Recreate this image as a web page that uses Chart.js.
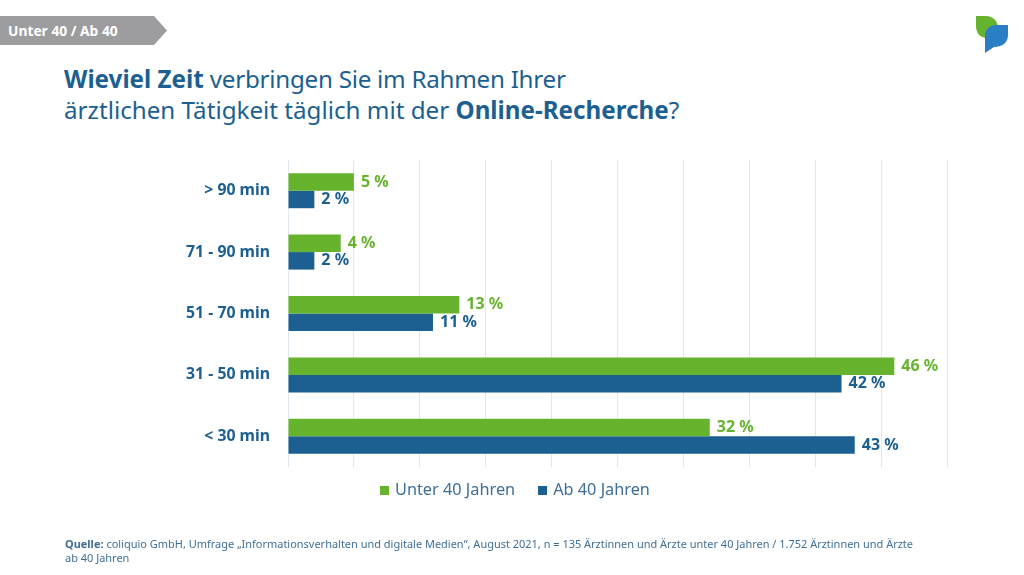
<!DOCTYPE html>
<html lang="de">
<head>
<meta charset="utf-8">
<title>Online-Recherche</title>
<script src="https://cdn.jsdelivr.net/npm/chart.js@4"></script>
<style>
  html, body { margin: 0; padding: 0; background: #fff; }
  body { width: 1024px; height: 575px; position: relative; overflow: hidden; font-family: "Noto Sans", sans-serif; }
  #chart-canvas { position: absolute; left: 0; top: 0; }
  .tab { position: absolute; left: 0; top: 16px; width: 167px; height: 29px; background: #9d9d9f; color: #fff;
    clip-path: polygon(0 0, 154px 0, 100% 50%, 154px 100%, 0 100%);
    font-weight: 700; font-size: 13.8px; line-height: 29px; padding-left: 8px; box-sizing: border-box; }
  h1 { position: absolute; left: 64px; top: 63px; margin: 0; font-size: 24.2px; line-height: 31px; font-weight: 400; color: #1c5f91; white-space: nowrap; }
  h1 b { font-weight: 700; }
  h1 span { letter-spacing: -0.26px; }
  .source { position: absolute; left: 65px; top: 537px; width: 860px; font-size: 10.97px; line-height: 14px; color: #3f6f96; }
  .logo { position: absolute; left: 975px; top: 15px; }
  #legend { position: absolute; left: 380px; top: 478px; white-space: nowrap; font-size: 16.3px; line-height: 22px; color: #3f6f96; }
  #legend span { display: inline-block; margin-right: 23px; }
  #legend i { display: inline-block; width: 9px; height: 9px; margin-right: 6px; }
</style>
</head>
<body>
<div class="tab">Unter 40 / Ab 40</div>
<h1><b>Wieviel Zeit</b><span> verbringen Sie im Rahmen Ihrer</span><br>ärztlichen Tätigkeit täglich mit der <b>Online-Recherche</b>?</h1>
<svg class="logo" width="34" height="40" viewBox="0 0 34 40">
  <path d="M1 1 H11 C18 1 23 6 23 13 C23 19 18 23 12 23 C5 23 1 18 1 11 Z" fill="#66b32e"/>
  <path d="M10 21 C10 14 15 10 21 10 H33 V20 C33 28 27 32 19 32 L10 38 Z" fill="#2a7fc4"/>
</svg>
<canvas id="chart-canvas" width="1024" height="575"></canvas>
<div id="legend"></div>
<div class="source"><b>Quelle:</b> coliquio GmbH, Umfrage „Informationsverhalten und digitale Medien“, August 2021, n = 135 Ärztinnen und Ärzte unter 40 Jahren / 1.752 Ärztinnen und Ärzte ab 40 Jahren</div>
<script>
let categories = ["> 90 min", "71 - 90 min", "51 - 70 min", "31 - 50 min", "< 30 min"];
let under40 = [5, 4, 13, 46, 32];
let over40 = [2, 2, 11, 42, 43];
let seriesNames = ["Unter 40 Jahren", "Ab 40 Jahren"];

let green = "#66b32e";
let blue = "#1c5f91";

// prints the "5 %" labels next to the bars
let valueLabels = {
  id: "valueLabels",
  afterDatasetsDraw(chart) {
    let ctx = chart.ctx;
    ctx.save();
    ctx.font = "700 16px 'Noto Sans'";
    ctx.textBaseline = "middle";
    chart.data.datasets.forEach(function (dataset, i) {
      ctx.fillStyle = dataset.backgroundColor;
      chart.getDatasetMeta(i).data.forEach(function (bar, j) {
        ctx.fillText(dataset.data[j] + " %", bar.x + 7, bar.y);
      });
    });
    ctx.restore();
  },
};

let chart1 = new Chart(document.getElementById("chart-canvas").getContext("2d"), {
  type: "bar",
  data: {
    labels: categories,
    datasets: [
      { label: seriesNames[0], data: under40, backgroundColor: green },
      { label: seriesNames[1], data: over40, backgroundColor: blue },
    ],
  },
  plugins: [valueLabels],
  options: {
    indexAxis: "y",
    responsive: false,
    animation: false,
    layout: { padding: { top: 160, right: 77, bottom: 108 } },
    datasets: { bar: { categoryPercentage: 0.57, barPercentage: 1 } },
    scales: {
      x: {
        min: 0,
        max: 50,
        ticks: { display: false, stepSize: 5 },
        border: { display: false },
        grid: { color: "#dfe7ef", drawTicks: false },
      },
      y: {
        afterFit(axis) { axis.width = 288; },
        ticks: { color: blue, padding: 10, font: { family: "Noto Sans", size: 15.8, weight: "700" } },
        border: { display: false },
        grid: { display: false },
      },
    },
    plugins: {
      tooltip: { enabled: false },
      legend: { display: false },
    },
  },
});

// legend sits in its own html row under the plot
let legendBox = document.getElementById("legend");
chart1.data.datasets.forEach(function (dataset) {
  let item = document.createElement("span");
  let swatch = document.createElement("i");
  swatch.style.background = dataset.backgroundColor;
  item.appendChild(swatch);
  item.appendChild(document.createTextNode(dataset.label));
  legendBox.appendChild(item);
});
</script>
</body>
</html>
